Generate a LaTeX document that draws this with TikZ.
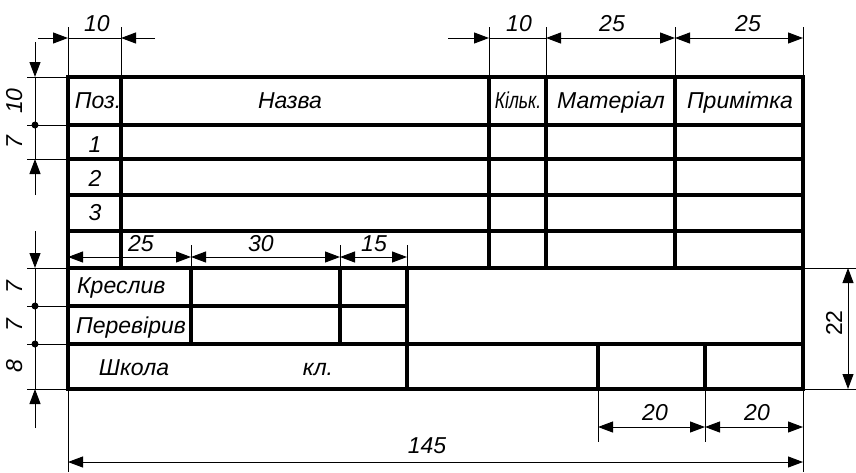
\documentclass[tikz,border=0pt]{standalone}
\usepackage{fontspec}
\setmainfont{Liberation Sans}
\usetikzlibrary{arrows.meta}

\tikzset{
  frame/.style={line width=3.2pt},
  thin/.style={line width=1pt},
  dim/.style={line width=1pt, >={Triangle[length=15pt,width=11pt]}},
  lbl/.style={font=\itshape\fontsize{23}{23}\selectfont, inner sep=0pt, anchor=base},
  num/.style={font=\itshape\fontsize{23}{23}\selectfont, inner sep=0pt, anchor=base},
}

\begin{document}
\begin{tikzpicture}[x=1pt, y=-1pt]
  \useasboundingbox (0,0) rectangle (856,472);

  % Draw the table
  \draw[frame] (68,77) rectangle (803,389);
  \foreach \y in {125,159,195,231,268} {
    \draw[frame] (68,\y) -- (803,\y);
  }
  \foreach \x in {121,489,546,675} {
    \draw[frame] (\x,77) -- (\x,268);
  }
  \draw[frame] (68,306) -- (407,306);
  \draw[frame] (68,344) -- (803,344);
  \foreach \x in {191,340} {
    \draw[frame] (\x,268) -- (\x,344);
  }
  \draw[frame] (407,268) -- (407,389);
  \foreach \x in {598,705} {
    \draw[frame] (\x,344) -- (\x,389);
  }

  % Texts in the cells
  \node[lbl] (poz) at (98,108) {Поз.};
  \node[lbl] (nazva) at (290,108) {Назва};
  \node[lbl] (kilk) at (518,108) {\scalebox{0.76}[1]{Кільк.}};
  \node[lbl] (mat) at (611,108) {Матеріал};
  \node[lbl] (prim) at (740,108) {Примітка};
  \foreach \n/\y in {1/152,2/186,3/220} {
    \node[lbl] (row\n) at (95,\y) {\n};
  }
  \node[lbl, anchor=base west] (kresl) at (77,293) {Креслив};
  \node[lbl, anchor=base west] (perev) at (76,333) {Перевірив};
  \node[lbl] (shkola) at (134,375) {Школа};
  \node[lbl] (kl) at (318,375) {кл.};

  % Top dimensions
  \foreach \x in {68,121,489,546,675,803} {
    \draw[thin] (\x,27) -- (\x,77);
  }
  \draw[dim,->] (38,38) -- (68,38);
  \draw[dim] (68,38) -- (121,38);
  \draw[dim,->] (155,38) -- (121,38);
  \draw[dim,->] (448,38) -- (489,38);
  \draw[dim] (489,38) -- (546,38);
  \draw[dim,<->] (546,38) -- (675,38);
  \draw[dim,<->] (675,38) -- (803,38);
  \node[num] (d10a) at (97,31) {10};
  \node[num] (d10b) at (519,31) {10};
  \node[num] (d25a) at (612,31) {25};
  \node[num] (d25b) at (748,31) {25};

  % Left dimensions
  \foreach \y in {77,125,159,268,306,344,389} {
    \draw[thin] (27,\y) -- (68,\y);
  }
  \draw[dim,->] (35,42) -- (35,77);
  \draw[dim] (35,77) -- (35,159);
  \draw[dim,->] (35,195) -- (35,159);
  \draw[dim,->] (35,231) -- (35,268);
  \draw[dim] (35,268) -- (35,389);
  \draw[dim,->] (35,428) -- (35,389);
  \foreach \y in {125,306,344} {
    \fill (35,\y) circle (3.5pt);
  }
  \node[num, rotate=90] (l10) at (22,101) {10};
  \node[num, rotate=90] (l7a) at (22,142) {7};
  \node[num, rotate=90] (l7b) at (22,287) {7};
  \node[num, rotate=90] (l7c) at (22,325) {7};
  \node[num, rotate=90] (l8) at (22,366) {8};

  % Inner dimensions
  \foreach \x in {191,340,407} {
    \draw[thin] (\x,245) -- (\x,268);
  }
  \draw[dim,<->] (68,257) -- (191,257);
  \draw[dim,<->] (191,257) -- (340,257);
  \draw[dim,<->] (340,257) -- (407,257);
  \node[num] (i25) at (141,251) {25};
  \node[num] (i30) at (261,251) {30};
  \node[num] (i15) at (374,251) {15};

  % Right dimension
  \foreach \y in {268,389} {
    \draw[thin] (803,\y) -- (856,\y);
  }
  \draw[dim,<->] (848,268) -- (848,389);
  \node[num, font=\fontsize{23}{23}\selectfont, rotate=90] (r22) at (842,323) {22};

  % Bottom dimensions
  \foreach \x in {598,705} {
    \draw[thin] (\x,389) -- (\x,442);
  }
  \foreach \x in {68,803} {
    \draw[thin] (\x,389) -- (\x,472);
  }
  \draw[dim,<->] (598,427) -- (705,427);
  \draw[dim,<->] (705,427) -- (803,427);
  \draw[dim,<->] (68,462) -- (803,462);
  \node[num] (b20a) at (655,420) {20};
  \node[num] (b20b) at (757,420) {20};
  \node[num] (b145) at (427,453) {145};
\end{tikzpicture}
\end{document}
